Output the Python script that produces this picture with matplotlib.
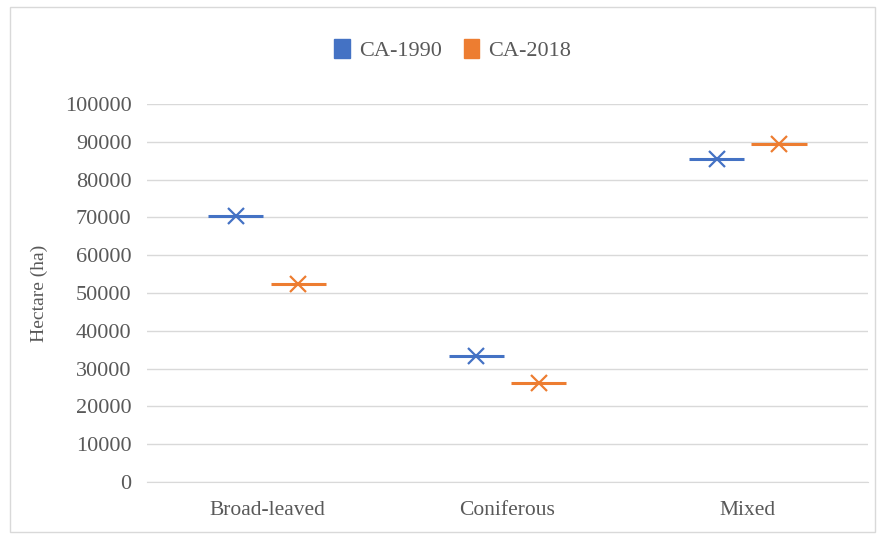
import numpy as np
import matplotlib
matplotlib.use('Agg')
import matplotlib.pyplot as plt
from matplotlib.patches import Patch, Rectangle

# forest cover per type (ha)
categories = ["Broad-leaved", "Coniferous", "Mixed"]
ca1990 = [70300, 33200, 85400]
ca2018 = [52300, 26100, 89400]
series_names = ["CA-1990", "CA-2018"]
yticks = np.arange(0, 100001, 10000)

blue = "#4472C4"
orange = "#ED7D31"
grid_col = "#D9D9D9"
text_col = "#595959"

plt.rcParams['font.family'] = ['Liberation Serif', 'DejaVu Serif']

fig = plt.figure(figsize=(8.79, 5.34), dpi=100)
ax = fig.add_axes([0.167, 0.0974, 0.8205, 0.708])

x = np.arange(len(categories))
offset = 0.13
half = 0.115

for vals, col, dx in [(ca1990, blue, -offset), (ca2018, orange, offset)]:
    xs = x + dx
    ax.hlines(vals, xs - half, xs + half, colors=col, linewidth=2.2, zorder=3)
    ax.plot(xs, vals, linestyle="none", marker="x", markersize=11,
            markeredgewidth=1.6, color=col, zorder=4)

ax.set_xlim(-0.5, len(categories) - 0.5)
ax.set_ylim(0, 100000)
ax.set_yticks(yticks)
ax.set_yticklabels([str(v) for v in yticks])
ax.set_xticks(x)
ax.set_xticklabels(categories)
ax.tick_params(axis="y", length=0, labelsize=16, colors=text_col, pad=11)
ax.tick_params(axis="x", length=0, labelsize=15.5, colors=text_col, pad=14)
ax.grid(axis="y", color=grid_col, linewidth=1)
ax.set_axisbelow(True)
for side in ["top", "right", "left"]:
    ax.spines[side].set_visible(False)
ax.spines["bottom"].set_color(grid_col)
ax.set_ylabel("Hectare (ha)", fontsize=14, color=text_col, labelpad=12)

handles = [Patch(facecolor=blue, edgecolor=blue),
           Patch(facecolor=orange, edgecolor=orange)]
fig.legend(handles, series_names, loc="center", bbox_to_anchor=(0.515, 0.906),
           ncol=2, frameon=False, fontsize=16, handlelength=0.7,
           handleheight=0.9, handletextpad=0.4, columnspacing=1.0,
           labelcolor=text_col)

# chart frame
fig.patches.append(Rectangle((0.011, 0.004), 0.985, 0.982, transform=fig.transFigure,
                             fill=False, edgecolor="#D9D9D9", linewidth=1))

fig.savefig("out.png", dpi=100)
